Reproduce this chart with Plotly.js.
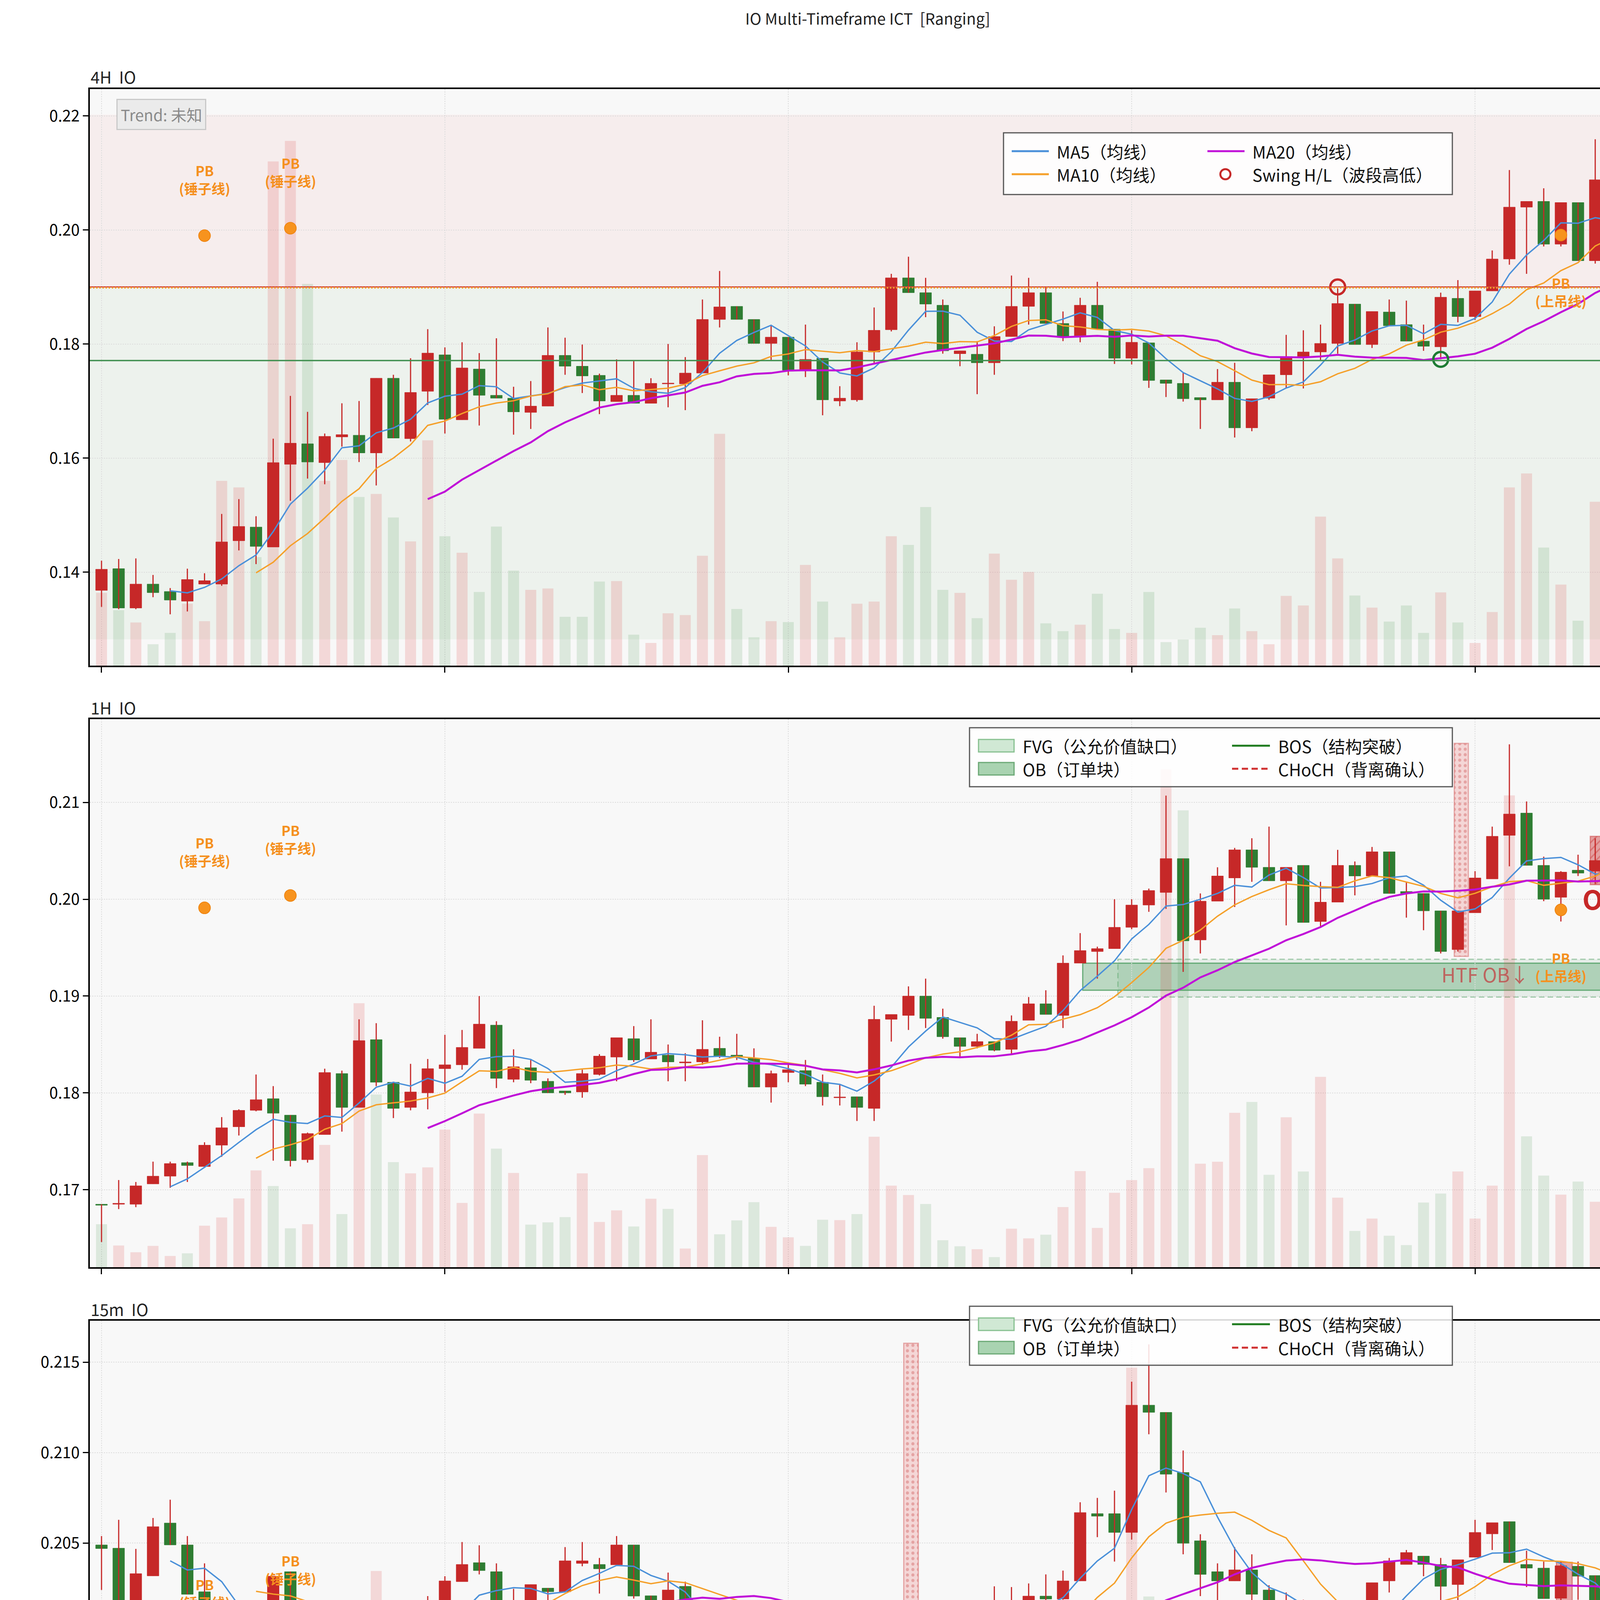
<!DOCTYPE html>
<html><head><meta charset="utf-8">
<script src="https://cdn.plot.ly/plotly-3.0.1.min.js"></script>
<style>html,body{margin:0;padding:0;background:#fff}#chart{width:4283px;height:6370px}</style>
</head><body><div id="chart"></div>
<script>
// ---------------- DATA ----------------
const IDX = Array.from({length: 90}, (_, i) => i);
const TIME_TICKS = [0, 11, 22, 33, 44, 55, 66, 77, 88];
const TIME_LABELS = ['06-22 06:12','06-22 06:45','06-22 07:18','06-22 07:51','06-22 08:24','06-22 08:57','06-22 09:30','06-22 10:03','06-22 10:36'];

// 4H
const P1_OPEN = [0.1368,0.1406,0.1337,0.1379,0.1366,0.1349,0.1379,0.1379,0.1455,0.1479,0.1444,0.1589,0.1625,0.1592,0.1637,0.1640,0.1609,0.1740,0.1634,0.1717,0.1781,0.1667,0.1756,0.1710,0.1705,0.1680,0.1691,0.1780,0.1761,0.1745,0.1699,0.1710,0.1696,0.1730,0.1730,0.1749,0.1843,0.1866,0.1843,0.1801,0.1812,0.1754,0.1775,0.1700,0.1702,0.1786,0.1825,0.1916,0.1890,0.1868,0.1783,0.1782,0.1767,0.1813,0.1866,0.1890,0.1836,0.1813,0.1868,0.1826,0.1775,0.1802,0.1737,0.1731,0.1706,0.1702,0.1733,0.1653,0.1705,0.1746,0.1778,0.1786,0.1801,0.1870,0.1799,0.1856,0.1834,0.1805,0.1795,0.1880,0.1848,0.1893,0.1949,0.2040,0.2050,0.1975,0.2048,0.1946,0.2090,0.2027];
const P1_HIGH = [0.1420,0.1423,0.1424,0.1395,0.1372,0.1406,0.1398,0.1502,0.1528,0.1498,0.1634,0.1709,0.1681,0.1643,0.1696,0.1700,0.1740,0.1746,0.1775,0.1826,0.1794,0.1803,0.1784,0.1810,0.1725,0.1735,0.1829,0.1811,0.1799,0.1748,0.1773,0.1770,0.1740,0.1800,0.1777,0.1878,0.1928,0.1866,0.1843,0.1832,0.1812,0.1834,0.1775,0.1726,0.1803,0.1864,0.1923,0.1953,0.1916,0.1878,0.1788,0.1805,0.1831,0.1920,0.1916,0.1901,0.1857,0.1881,0.1909,0.1826,0.1824,0.1802,0.1737,0.1750,0.1706,0.1756,0.1767,0.1704,0.1746,0.1816,0.1824,0.1834,0.1899,0.1870,0.1857,0.1878,0.1876,0.1834,0.1890,0.1912,0.1893,0.1964,0.2105,0.2050,0.2073,0.2048,0.2048,0.2159,0.2090,0.2055];
const P1_LOW = [0.1339,0.1335,0.1335,0.1356,0.1326,0.1331,0.1379,0.1376,0.1438,0.1414,0.1444,0.1525,0.1564,0.1554,0.1620,0.1593,0.1552,0.1635,0.1629,0.1693,0.1643,0.1667,0.1657,0.1705,0.1641,0.1651,0.1691,0.1746,0.1714,0.1677,0.1699,0.1696,0.1696,0.1689,0.1684,0.1749,0.1829,0.1843,0.1801,0.1772,0.1745,0.1742,0.1675,0.1691,0.1699,0.1767,0.1822,0.1890,0.1847,0.1783,0.1761,0.1712,0.1746,0.1813,0.1834,0.1836,0.1805,0.1803,0.1826,0.1765,0.1764,0.1723,0.1707,0.1699,0.1651,0.1702,0.1636,0.1647,0.1702,0.1723,0.1722,0.1772,0.1783,0.1799,0.1793,0.1832,0.1805,0.1788,0.1773,0.1838,0.1842,0.1893,0.1939,0.1923,0.1971,0.1971,0.1946,0.1941,0.1977,0.1983];
const P1_CLOSE = [0.1405,0.1337,0.1379,0.1364,0.1351,0.1387,0.1385,0.1453,0.1480,0.1445,0.1592,0.1626,0.1593,0.1638,0.1641,0.1609,0.1740,0.1635,0.1715,0.1784,0.1668,0.1758,0.1710,0.1705,0.1681,0.1691,0.1780,0.1761,0.1744,0.1700,0.1710,0.1696,0.1731,0.1731,0.1749,0.1843,0.1865,0.1843,0.1801,0.1812,0.1754,0.1773,0.1702,0.1705,0.1786,0.1824,0.1916,0.1890,0.1870,0.1788,0.1788,0.1767,0.1813,0.1866,0.1890,0.1836,0.1813,0.1868,0.1826,0.1775,0.1803,0.1736,0.1731,0.1704,0.1702,0.1733,0.1653,0.1704,0.1746,0.1778,0.1786,0.1801,0.1871,0.1799,0.1857,0.1832,0.1805,0.1796,0.1882,0.1848,0.1893,0.1949,0.2040,0.2050,0.1975,0.2048,0.1946,0.2088,0.2025,0.1983];
const P1_VOL = [167,127,99,49,75,142,102,424,409,249,1157,1204,876,424,472,387,394,340,285,517,297,259,169,319,218,174,177,112,112,193,194,71,52,120,116,252,532,130,65,102,100,231,147,65,142,147,297,277,364,174,167,109,257,197,215,97,79,94,165,84,75,169,54,60,87,70,131,79,49,160,138,342,246,161,133,101,138,75,168,99,52,123,409,441,271,186,103,376,205,93];

// 1H
const P2_OPEN = [0.1685,0.1685,0.1685,0.1706,0.1714,0.1728,0.1724,0.1746,0.1765,0.1782,0.1794,0.1777,0.1731,0.1757,0.1820,0.1785,0.1855,0.1811,0.1785,0.1800,0.1825,0.1829,0.1846,0.1870,0.1814,0.1826,0.1812,0.1802,0.1801,0.1819,0.1837,0.1856,0.1835,0.1839,0.1831,0.1832,0.1846,0.1839,0.1836,0.1806,0.1821,0.1823,0.1811,0.1795,0.1796,0.1784,0.1876,0.1880,0.1900,0.1878,0.1857,0.1848,0.1853,0.1845,0.1875,0.1892,0.1880,0.1934,0.1946,0.1949,0.1971,0.1994,0.2007,0.2042,0.1958,0.1998,0.2022,0.2051,0.2033,0.2019,0.2035,0.1977,0.1997,0.2035,0.2024,0.2049,0.2008,0.2006,0.1988,0.1948,0.1986,0.2021,0.2066,0.2089,0.2035,0.2002,0.2030,0.2029,0.2038,0.2030];
const P2_HIGH = [0.1685,0.1710,0.1708,0.1729,0.1729,0.1729,0.1749,0.1775,0.1783,0.1819,0.1807,0.1777,0.1759,0.1825,0.1823,0.1876,0.1872,0.1811,0.1830,0.1835,0.1860,0.1865,0.1900,0.1874,0.1845,0.1834,0.1815,0.1802,0.1824,0.1840,0.1857,0.1869,0.1876,0.1850,0.1841,0.1875,0.1858,0.1861,0.1846,0.1823,0.1830,0.1834,0.1819,0.1809,0.1796,0.1890,0.1881,0.1910,0.1918,0.1887,0.1857,0.1861,0.1853,0.1880,0.1899,0.1906,0.1942,0.1965,0.1951,0.2000,0.2000,0.2011,0.2107,0.2042,0.2006,0.2033,0.2053,0.2063,0.2075,0.2033,0.2035,0.2018,0.2051,0.2039,0.2054,0.2049,0.2018,0.2006,0.1988,0.1988,0.2029,0.2075,0.2160,0.2101,0.2044,0.2029,0.2046,0.2063,0.2046,0.2030];
const P2_LOW = [0.1646,0.1680,0.1682,0.1706,0.1702,0.1708,0.1724,0.1734,0.1756,0.1781,0.1730,0.1724,0.1728,0.1757,0.1760,0.1785,0.1807,0.1774,0.1782,0.1783,0.1801,0.1824,0.1846,0.1805,0.1811,0.1810,0.1800,0.1798,0.1795,0.1818,0.1812,0.1832,0.1835,0.1812,0.1812,0.1829,0.1836,0.1834,0.1806,0.1790,0.1811,0.1807,0.1787,0.1787,0.1771,0.1771,0.1853,0.1865,0.1867,0.1856,0.1837,0.1846,0.1843,0.1840,0.1875,0.1881,0.1867,0.1934,0.1918,0.1949,0.1969,0.1987,0.1990,0.1925,0.1944,0.1998,0.1992,0.2018,0.2019,0.1973,0.1976,0.1971,0.1997,0.2004,0.2024,0.2006,0.1981,0.1968,0.1944,0.1946,0.1986,0.2021,0.2034,0.2035,0.1998,0.1977,0.2024,0.2016,0.2018,0.1978];
const P2_CLOSE = [0.1684,0.1686,0.1704,0.1714,0.1727,0.1725,0.1746,0.1764,0.1782,0.1793,0.1779,0.1730,0.1758,0.1821,0.1785,0.1854,0.1811,0.1784,0.1801,0.1825,0.1829,0.1847,0.1871,0.1815,0.1827,0.1813,0.1800,0.1800,0.1820,0.1838,0.1857,0.1834,0.1842,0.1832,0.1832,0.1845,0.1838,0.1837,0.1806,0.1820,0.1824,0.1809,0.1796,0.1795,0.1785,0.1876,0.1881,0.1900,0.1877,0.1858,0.1848,0.1853,0.1844,0.1874,0.1892,0.1881,0.1934,0.1947,0.1949,0.1971,0.1994,0.2009,0.2042,0.1957,0.1998,0.2024,0.2051,0.2033,0.2019,0.2033,0.1976,0.1997,0.2035,0.2024,0.2049,0.2006,0.2006,0.1988,0.1946,0.1988,0.2022,0.2065,0.2088,0.2035,0.2000,0.2028,0.2027,0.2040,0.2032,0.1978];
const P2_VOL = [115,58,40,57,30,37,111,133,184,259,217,104,115,327,142,706,462,281,251,267,368,172,411,317,252,114,120,134,251,121,152,109,183,156,50,300,88,125,174,108,80,57,127,126,142,349,218,193,169,72,56,48,27,103,77,87,161,257,105,199,233,265,1332,1222,277,282,413,442,247,401,256,509,186,97,130,84,59,173,197,256,130,218,1262,350,245,194,229,175,180,109];

// 15m
const P3_OPEN = [0.20490,0.20472,0.20128,0.20319,0.20611,0.20490,0.20231,0.20177,0.19949,0.19939,0.20030,0.20342,0.20012,0.20024,0.19859,0.19770,0.19720,0.20040,0.19881,0.19971,0.20080,0.20287,0.20392,0.20342,0.20080,0.20150,0.20251,0.20231,0.20388,0.20382,0.20380,0.20490,0.20209,0.20150,0.20261,0.20080,0.19931,0.19929,0.20080,0.20060,0.19851,0.19839,0.19871,0.19871,0.19831,0.19682,0.19619,0.19479,0.19509,0.19660,0.19790,0.19861,0.20050,0.20130,0.20181,0.20207,0.20191,0.20291,0.20663,0.20663,0.20559,0.21263,0.21223,0.20891,0.20513,0.20342,0.20291,0.20352,0.20241,0.20080,0.20140,0.20009,0.19949,0.19901,0.20010,0.20291,0.20382,0.20428,0.20382,0.20271,0.20422,0.20551,0.20619,0.20382,0.20362,0.20195,0.20372,0.20321,0.20140,0.19889];
const P3_HIGH = [0.20539,0.20629,0.20468,0.20639,0.20740,0.20539,0.20388,0.20177,0.20080,0.20040,0.20317,0.20342,0.20156,0.20024,0.19919,0.19885,0.20181,0.20090,0.20040,0.20207,0.20317,0.20506,0.20488,0.20388,0.20247,0.20271,0.20251,0.20478,0.20506,0.20418,0.20539,0.20490,0.20209,0.20337,0.20287,0.20100,0.20126,0.20080,0.20092,0.20060,0.19945,0.19881,0.20006,0.19871,0.19841,0.19682,0.19619,0.19583,0.19664,0.19899,0.19999,0.20050,0.20261,0.20257,0.20277,0.20327,0.20348,0.20726,0.20750,0.20790,0.21393,0.21599,0.21223,0.21012,0.20549,0.20388,0.20478,0.20438,0.20267,0.20227,0.20187,0.20086,0.20016,0.20036,0.20281,0.20418,0.20462,0.20428,0.20418,0.20408,0.20629,0.20613,0.20619,0.20458,0.20398,0.20398,0.20398,0.20321,0.20140,0.19929];
const P3_LOW = [0.20241,0.20072,0.20112,0.20319,0.20490,0.20217,0.20120,0.19889,0.19720,0.19889,0.19979,0.19841,0.19971,0.19851,0.19760,0.19700,0.19710,0.19790,0.19881,0.19951,0.20080,0.20287,0.20327,0.20032,0.20056,0.20052,0.20110,0.20231,0.20372,0.20221,0.20380,0.20193,0.20110,0.20100,0.20032,0.19800,0.19889,0.19871,0.19911,0.19780,0.19811,0.19670,0.19871,0.19780,0.19634,0.19509,0.19453,0.19402,0.19509,0.19660,0.19790,0.19825,0.20050,0.20112,0.20116,0.20156,0.20187,0.20291,0.20533,0.20398,0.20519,0.21102,0.20780,0.20438,0.20207,0.20181,0.20291,0.20130,0.20026,0.20030,0.19975,0.19889,0.19871,0.19770,0.19965,0.20227,0.20382,0.20317,0.20177,0.20160,0.20422,0.20462,0.20392,0.20257,0.20193,0.20181,0.20187,0.20150,0.19889,0.19778];
const P3_CLOSE = [0.20470,0.20128,0.20331,0.20591,0.20490,0.20217,0.20177,0.19959,0.19931,0.20040,0.20317,0.20026,0.20024,0.19851,0.19760,0.19730,0.20040,0.19871,0.19959,0.20080,0.20291,0.20382,0.20348,0.20086,0.20160,0.20271,0.20231,0.20402,0.20402,0.20358,0.20490,0.20207,0.20150,0.20241,0.20060,0.19939,0.19911,0.20080,0.20060,0.19851,0.19852,0.19881,0.19881,0.19821,0.19670,0.19640,0.19469,0.19503,0.19650,0.19770,0.19871,0.20050,0.20130,0.20171,0.20207,0.20191,0.20291,0.20669,0.20649,0.20559,0.21263,0.21223,0.20881,0.20499,0.20327,0.20291,0.20352,0.20217,0.20090,0.20140,0.19999,0.19939,0.19911,0.19999,0.20281,0.20402,0.20448,0.20382,0.20261,0.20408,0.20559,0.20613,0.20392,0.20362,0.20193,0.20375,0.20317,0.20150,0.19889,0.19778];
const P3_VOL = [160,320,166,76,91,184,132,388,164,45,187,191,132,107,71,101,739,65,88,87,113,110,57,87,25,53,26,98,49,65,46,38,35,67,27,29,38,24,27,79,31,192,35,97,123,93,73,202,104,133,62,45,115,55,43,40,30,181,174,249,1298,669,250,297,140,177,71,167,122,79,112,61,71,110,139,121,44,50,232,59,192,54,40,157,104,43,49,67,88,59];

// 3m
const P4_OPEN = [0.20020,0.19950,0.19960,0.19994,0.19991,0.19991,0.19901,0.19901,0.19970,0.20011,0.19991,0.20009,0.20051,0.20092,0.20051,0.20111,0.20291,0.20241,0.20322,0.20312,0.20341,0.20382,0.20411,0.20392,0.20372,0.20441,0.20432,0.20353,0.20372,0.20353,0.20363,0.20382,0.20352,0.20363,0.20363,0.20282,0.20271,0.20231,0.20210,0.20346,0.20303,0.20421,0.20521,0.20531,0.20511,0.20490,0.20551,0.20561,0.20500,0.20481,0.20541,0.20622,0.20521,0.20492,0.20500,0.20481,0.20382,0.20312,0.20422,0.20351,0.20291,0.20362,0.20291,0.20281,0.20372,0.20212,0.20181,0.20241,0.20271,0.20271,0.20312,0.20372,0.20281,0.20262,0.20321,0.20341,0.20321,0.20271,0.20211,0.20212,0.20110,0.20141,0.20100,0.19989,0.19979,0.19919,0.19889,0.19900,0.19850,0.19798];
const P4_HIGH = [0.20059,0.19988,0.20020,0.20000,0.20018,0.19991,0.19911,0.19959,0.20040,0.20011,0.20020,0.20041,0.20174,0.20102,0.20102,0.20282,0.20291,0.20321,0.20380,0.20353,0.20412,0.20421,0.20421,0.20423,0.20462,0.20462,0.20432,0.20382,0.20372,0.20372,0.20382,0.20421,0.20403,0.20363,0.20363,0.20321,0.20282,0.20251,0.20342,0.20346,0.20413,0.20631,0.20531,0.20602,0.20553,0.20591,0.20561,0.20561,0.20521,0.20580,0.20612,0.20622,0.20540,0.20492,0.20511,0.20481,0.20392,0.20460,0.20450,0.20403,0.20372,0.20403,0.20301,0.20372,0.20372,0.20219,0.20231,0.20312,0.20291,0.20392,0.20392,0.20372,0.20291,0.20301,0.20372,0.20341,0.20321,0.20271,0.20262,0.20212,0.20181,0.20161,0.20100,0.20000,0.19979,0.19969,0.19930,0.19900,0.19869,0.19828];
const P4_LOW = [0.19892,0.19950,0.19933,0.19941,0.19960,0.19873,0.19770,0.19892,0.19960,0.19951,0.19970,0.19960,0.20051,0.20051,0.20031,0.20102,0.20231,0.20220,0.20282,0.20291,0.20341,0.20382,0.20353,0.20372,0.20353,0.20413,0.20341,0.20332,0.20321,0.20341,0.20353,0.20341,0.20352,0.20321,0.20172,0.20262,0.20161,0.20190,0.20210,0.20282,0.20303,0.20421,0.20502,0.20482,0.20450,0.20482,0.20482,0.20480,0.20460,0.20481,0.20541,0.20536,0.20481,0.20481,0.20481,0.20392,0.20322,0.20312,0.20332,0.20251,0.20271,0.20271,0.20282,0.20191,0.20200,0.20191,0.20181,0.20241,0.20251,0.20271,0.20312,0.20231,0.20241,0.20191,0.20321,0.20301,0.20262,0.20200,0.20200,0.20079,0.20110,0.20091,0.20000,0.19950,0.19919,0.19889,0.19853,0.19839,0.19798,0.19776];
const P4_CLOSE = [0.19939,0.19970,0.20001,0.19996,0.20001,0.19911,0.19911,0.19959,0.20031,0.19980,0.20011,0.20041,0.20092,0.20051,0.20102,0.20282,0.20231,0.20312,0.20312,0.20353,0.20403,0.20392,0.20413,0.20372,0.20462,0.20452,0.20382,0.20363,0.20353,0.20363,0.20382,0.20341,0.20353,0.20341,0.20303,0.20262,0.20220,0.20210,0.20342,0.20312,0.20413,0.20521,0.20522,0.20500,0.20469,0.20561,0.20561,0.20500,0.20469,0.20541,0.20612,0.20536,0.20511,0.20481,0.20501,0.20392,0.20322,0.20440,0.20372,0.20291,0.20362,0.20271,0.20292,0.20372,0.20200,0.20191,0.20231,0.20262,0.20291,0.20312,0.20372,0.20291,0.20262,0.20301,0.20341,0.20321,0.20262,0.20212,0.20212,0.20110,0.20151,0.20100,0.20000,0.19990,0.19919,0.19889,0.19919,0.19859,0.19798,0.19800];
const P4_VOL = [322,42,77,128,157,274,698,126,73,76,87,138,985,20,67,138,126,225,607,117,101,142,81,51,63,86,129,126,119,100,7,142,665,43,1277,129,164,212,79,36,75,1018,100,198,396,154,63,176,118,67,89,123,78,12,59,103,118,153,321,842,94,241,91,503,48,124,33,85,48,150,96,92,22,312,38,14,10,194,258,106,85,101,202,275,165,110,137,89,253,96];

// annotation values / zones
const P1_PREMIUM = [0.1900, 0.2202];
const P1_DISCOUNT = [0.1282, 0.1900];
const P1_RES_LEVEL = 0.1900, P1_SUP_LEVEL = 0.1771;
const P1_SWING_H = [[72], [0.1900]], P1_SWING_L = [[78], [0.1773]];
const P1_PB_X = [6, 11, 85, 89], P1_PB_Y = [0.1990, 0.2003, 0.1991, 0.1983];
const P2_PB_X = [6, 11, 85, 89], P2_PB_Y = [0.19911, 0.20039, 0.1989, 0.1981];
const P3_PB_X = [6, 11, 85, 89], P3_PB_Y = [0.19911, 0.20042, 0.19889, 0.19811];
const P4_PB_X = [89], P4_PB_Y = [0.19809];
const PB_KIND_3 = ['锤子线', '锤子线', '上吊线', '锤子线'];
const P2_OB_ZONE = [57.15, 89.74, 0.1906, 0.1934];
const P2_HTF_ZONE = [59.2, 89.74, 0.1899, 0.1938];
const P2_FVG_BOX = [79.2, 0.1941, 0.2161];
const P2_OB_BOX = [87.2, 0.2015, 0.2065];
const P2_OB_LABEL = [88.56, 0.20011];
const P2_OB_ARROW = [89.2, 0.2025, 0.19905];
const P3_OB_ZONE = [50.1, 89.74, 0.1967, 0.1977];
const P3_HTF_ZONE = [0, 89.74, 0.1899, 0.19372];
const P3_FVG_BOX = [47.15, 0.19398, 0.21605];
const P3_OB_BOX = [85.2, 0.20177, 0.20394];
const P3_OB_LABEL = [86.4, 0.20066];
const P3_OB_ARROW = [87.35, 0.20136, 0.20012];
const P4_HTF_ZONE = [0, 89.74, 0.1899, 0.1937];
const P4_EQH = 0.20367, P4_EQL = 0.20271;
const P4_ENTRY = [[70], [0.20392]];
const P4_DISP = [[79, 82], [0.20084, 0.20001]];

// ---------------- LAYOUT HELPERS ----------------
const W = 4283, H = 6370, ML = 230, MR = 70, MT = 228, MB = 269;
const PW = W - ML - MR, PH = H - MT - MB;
const px = x => (x - ML) / PW;
const py = y => (H - MB - y) / PH;
const FONT = 'Noto Sans CJK SC, Noto Sans, sans-serif';
const UP = '#c62828', DN = '#2e7d32';
const XR = [-0.68, 89.94];

const PANELS = [
  {O:P1_OPEN,H:P1_HIGH,L:P1_LOW,C:P1_CLOSE,V:P1_VOL, pr:[0.1236,0.2247], vr:1323, dom:[py(1704),1], dtick:0.02, fmt:'.2f', hpx:1476, title:'4H  IO', ty:196},
  {O:P2_OPEN,H:P2_HIGH,L:P2_LOW,C:P2_CLOSE,V:P2_VOL, pr:[0.1620,0.2186], vr:1466, dom:[py(3244),py(1841)], dtick:0.01, fmt:'.2f', hpx:1403, title:'1H  IO', ty:1811},
  {O:P3_OPEN,H:P3_HIGH,L:P3_LOW,C:P3_CLOSE,V:P3_VOL, pr:[0.18859,0.2173], vr:1427, dom:[py(4710),py(3381)], dtick:0.005, fmt:'.3f', hpx:1329, title:'15m  IO', ty:3350},
  {O:P4_OPEN,H:P4_HIGH,L:P4_LOW,C:P4_CLOSE,V:P4_VOL, pr:[0.18910,0.20713], vr:1405, dom:[0,py(4846)], dtick:0.0025, fmt:'.4f', hpx:1255, title:'3m  IO', ty:4816}
];

function sma(a, n) { return a.map((_, i) => i < n - 1 ? null : a.slice(i - n + 1, i + 1).reduce((s, v) => s + v, 0) / n); }

const data = [], shapes = [], annotations = [];
const layout = {
  width: W, height: H, paper_bgcolor: '#ffffff', plot_bgcolor: '#f8f8f8',
  margin: {l: ML, r: MR, t: MT, b: MB}, showlegend: false, hovermode: false,
  barmode: 'overlay', font: {family: FONT, color: '#111'},
  title: {text: 'IO Multi-Timeframe ICT  [Ranging]', x: 0.5, xref: 'paper', xanchor: 'center', y: 1 - 49 / H, yref: 'container', yanchor: 'middle', font: {size: 40, color: '#222', family: FONT}},
  shapes: shapes, annotations: annotations
};

const ids = [];
PANELS.forEach((p, k) => {
  const n = k + 1;
  const xid = n === 1 ? 'x' : 'x' + n;
  const yvid = n === 1 ? 'y' : 'y' + (2 * n - 1);
  const ypid = 'y' + (2 * n);
  ids.push({xid, yvid, ypid});
  const isLast = n === 4;
  layout[n === 1 ? 'xaxis' : 'xaxis' + n] = {
    domain: [0, 1], range: XR, anchor: yvid, zeroline: false,
    tickmode: 'array', tickvals: isLast ? TIME_TICKS : [0, 20, 40, 60, 80],
    ticktext: isLast ? TIME_LABELS : undefined, showticklabels: isLast,
    tickangle: isLast ? -30 : 0, tickfont: {size: 44, color: '#000', family: FONT},
    ticks: 'outside', ticklen: 14, tickwidth: 3, tickcolor: '#000',
    showgrid: true, gridcolor: '#dcdcdc', griddash: 'dot', gridwidth: 2,
    showline: true, linecolor: '#000', linewidth: 4, mirror: true
  };
  layout[n === 1 ? 'yaxis' : 'yaxis' + (2 * n - 1)] = {domain: p.dom, range: [0, p.vr], visible: false, fixedrange: true};
  layout['yaxis' + (2 * n)] = {
    overlaying: yvid, anchor: xid, side: 'left', range: p.pr, zeroline: false,
    tick0: 0, dtick: p.dtick, tickformat: p.fmt, tickfont: {size: 40, color: '#000', family: FONT},
    ticks: 'outside', ticklen: 14, tickwidth: 3, tickcolor: '#000',
    showgrid: true, gridcolor: '#dcdcdc', griddash: 'dot', gridwidth: 2,
    showline: true, linecolor: '#000', linewidth: 4, mirror: true
  };
  const up = p.C.map((c, i) => c >= p.O[i]);
  data.push({type: 'bar', x: IDX, y: p.V, xaxis: xid, yaxis: yvid, width: 0.64,
    marker: {color: up.map(u => u ? 'rgba(220,60,60,0.17)' : 'rgba(60,140,70,0.15)')}, hoverinfo: 'skip'});
  annotations.push({xref: 'paper', yref: 'paper', x: 0, y: py(p.ty), xanchor: 'left', yanchor: 'middle', text: p.title, showarrow: false, font: {size: 42, color: '#222', family: FONT}});
});

function addCandles(k, extraBefore) {
  const p = PANELS[k], id = ids[k];
  (extraBefore || []).forEach(t => data.push(t));
  const minH = (p.pr[1] - p.pr[0]) / p.hpx * 2;
  const cols = IDX.map(i => p.C[i] >= p.O[i] ? UP : DN);
  data.push({type: 'bar', x: IDX, xaxis: id.xid, yaxis: id.ypid, width: 0.68,
    base: IDX.map(i => Math.min(p.O[i], p.C[i])),
    y: IDX.map(i => Math.max(Math.abs(p.C[i] - p.O[i]), minH)),
    marker: {color: cols, line: {color: cols, width: 1}}, hoverinfo: 'skip'});
  // high-low wick drawn over the body (as in the reference)
  const wx = [], wy = [];
  IDX.forEach(i => { wx.push(i, i, null); wy.push(p.L[i], p.H[i], null); });
  data.push({type: 'scatter', mode: 'lines', x: wx, y: wy, xaxis: id.xid, yaxis: id.ypid, line: {color: UP, width: 3}, hoverinfo: 'skip'});
  const mas = [[5, '#4a90d9', 3.5], [10, '#f5a02a', 3.5], [20, '#c010d8', 5]];
  mas.forEach(m => data.push({type: 'scatter', mode: 'lines', x: IDX, y: sma(p.C, m[0]), xaxis: id.xid, yaxis: id.ypid, line: {color: m[1], width: m[2]}, hoverinfo: 'skip', connectgaps: false}));
}

function patternBox(k, box, width, fill, fg, shape, border) {
  const id = ids[k];
  return {type: 'bar', x: [box[0]], base: [box[1]], y: [box[2] - box[1]], width: width, xaxis: id.xid, yaxis: id.ypid,
    marker: {color: fill, line: {color: border, width: 3}, pattern: shape ? {shape: shape, fgcolor: fg, size: 14, solidity: 0.25, fillmode: 'overlay'} : undefined}, hoverinfo: 'skip'};
}

function zoneRect(k, z, fill, lineColor, dash) {
  const id = ids[k];
  shapes.push({type: 'rect', xref: id.xid, yref: id.ypid, x0: z[0], x1: z[1], y0: z[2], y1: z[3], fillcolor: fill,
    line: {color: lineColor, width: 3, dash: dash || 'solid'}, layer: 'below'});
}

function hline(k, y, color, width, dash, layer) {
  const id = ids[k];
  shapes.push({type: 'line', xref: id.xid + ' domain', yref: id.ypid, x0: 0, x1: 1, y0: y, y1: y, line: {color, width, dash: dash || 'solid'}, layer: layer || 'above'});
}

function pbDots(k, xs, ys, kinds) {
  const id = ids[k];
  data.push({type: 'scatter', mode: 'markers', x: xs, y: ys, xaxis: id.xid, yaxis: id.ypid,
    marker: {symbol: 'circle', size: 30, color: '#f7931e', line: {color: '#ef8410', width: 2}}, hoverinfo: 'skip'});
  xs.forEach((x, j) => {
    const hang = kinds[j] === '上吊线';
    annotations.push({xref: id.xid, yref: id.ypid, x: x, y: ys[j], yshift: hang ? -145 : 145, showarrow: false,
      text: '<b>PB</b><br><b>(' + kinds[j] + ')</b>', align: 'center', xanchor: 'center', yanchor: 'middle',
      font: {size: 35, color: '#f5901e', family: FONT}});
  });
}

function textAt(k, x, y, t, size, color, xanchor, bold) {
  const id = ids[k];
  annotations.push({xref: id.xid, yref: id.ypid, x: x, y: y, text: bold ? '<b>' + t + '</b>' : t, showarrow: false,
    xanchor: xanchor || 'center', yanchor: 'middle', font: {size: size, color: color, family: FONT}});
}

function downArrow(k, a, width, head) {
  const id = ids[k];
  data.push({type: 'scatter', mode: 'lines', x: [a[0], a[0]], y: [a[1], a[2]], xaxis: id.xid, yaxis: id.ypid, line: {color: '#c62828', width: width}, hoverinfo: 'skip'});
  data.push({type: 'scatter', mode: 'markers', x: [a[0]], y: [a[2]], xaxis: id.xid, yaxis: id.ypid, marker: {symbol: 'triangle-down', size: head, color: '#c62828'}, hoverinfo: 'skip'});
}

// ---- Panel 1 ----
zoneRect(0, [-0.68, 89.94, P1_PREMIUM[0], P1_PREMIUM[1]], 'rgba(220,100,100,0.07)', 'rgba(0,0,0,0)');
zoneRect(0, [-0.68, 89.94, P1_DISCOUNT[0], P1_DISCOUNT[1]], 'rgba(100,170,100,0.07)', 'rgba(0,0,0,0)');
addCandles(0);
hline(0, P1_RES_LEVEL, '#d0453a', 3);
hline(0, P1_RES_LEVEL - 0.00015, '#f5a02a', 4, 'dot');
hline(0, P1_SUP_LEVEL, '#3f8f4f', 3.5);
data.push({type: 'scatter', mode: 'markers', x: P1_SWING_H[0], y: P1_SWING_H[1], xaxis: 'x', yaxis: 'y2', marker: {symbol: 'circle-open', size: 38, color: '#c62828', line: {width: 6}}, hoverinfo: 'skip'});
data.push({type: 'scatter', mode: 'markers', x: P1_SWING_L[0], y: P1_SWING_L[1], xaxis: 'x', yaxis: 'y2', marker: {symbol: 'circle-open', size: 38, color: '#1e7b34', line: {width: 6}}, hoverinfo: 'skip'});
pbDots(0, P1_PB_X, P1_PB_Y, PB_KIND_3);
annotations.push({xref: 'paper', yref: 'paper', x: px(298), y: py(293), xanchor: 'left', yanchor: 'middle', text: 'Trend: 未知', showarrow: false,
  font: {size: 40, color: '#8a8a8a', family: FONT}, bgcolor: '#ebebeb', bordercolor: '#c9c9c9', borderwidth: 3, borderpad: 8});

// ---- Panel 2 ----
zoneRect(1, P2_HTF_ZONE, 'rgba(100,160,120,0.13)', 'rgba(110,175,125,0.6)', '14px,8px');
zoneRect(1, P2_OB_ZONE, 'rgba(80,160,100,0.36)', 'rgba(80,160,100,0.85)');
addCandles(1, [patternBox(1, P2_FVG_BOX, 0.82, 'rgba(240,185,185,0.55)', 'rgba(200,70,70,0.7)', '.', 'rgba(215,110,110,0.55)')]);
data.push(patternBox(1, P2_OB_BOX, 0.98, 'rgba(198,40,40,0.42)', 'rgba(198,40,40,0.75)', '/', 'rgba(198,40,40,0.45)'));
pbDots(1, P2_PB_X, P2_PB_Y, PB_KIND_3);
textAt(1, 80.6, 0.1923, 'HTF OB↓', 50, 'rgba(192,72,72,0.8)');
textAt(1, P2_OB_LABEL[0], P2_OB_LABEL[1], 'OB', 68, '#c62828', 'right', true);
downArrow(1, P2_OB_ARROW, 4, 20);

// ---- Panel 3 ----
zoneRect(2, P3_HTF_ZONE, 'rgba(100,160,120,0.13)', 'rgba(110,175,125,0.6)', '14px,8px');
zoneRect(2, P3_OB_ZONE, 'rgba(80,160,100,0.36)', 'rgba(80,160,100,0.85)');
addCandles(2, [patternBox(2, P3_FVG_BOX, 0.85, 'rgba(240,185,185,0.55)', 'rgba(200,70,70,0.7)', '.', 'rgba(215,110,110,0.55)')]);
data.push(patternBox(2, P3_OB_BOX, 0.92, 'rgba(198,40,40,0.4)', null, null, 'rgba(198,40,40,0.45)'));
pbDots(2, P3_PB_X, P3_PB_Y, PB_KIND_3);
textAt(2, 48.5, 0.19286, 'HTF OB↓', 50, 'rgba(192,72,72,0.8)');
textAt(2, P3_OB_LABEL[0], P3_OB_LABEL[1], 'OB', 66, '#c62828', 'right', true);
downArrow(2, P3_OB_ARROW, 5, 22);

// ---- Panel 4 ----
zoneRect(3, P4_HTF_ZONE, 'rgba(100,160,120,0.13)', 'rgba(110,175,125,0.6)', '14px,8px');
addCandles(3);
hline(3, P4_EQH, '#d64f4f', 4.5, '23px,11px');
hline(3, P4_EQL, '#2e9e45', 4.5, '23px,11px');
data.push({type: 'scatter', mode: 'markers', x: P4_ENTRY[0], y: P4_ENTRY[1], xaxis: 'x4', yaxis: 'y8', marker: {symbol: 'circle-open', size: 38, color: '#c62828', line: {width: 6}}, hoverinfo: 'skip'});
data.push({type: 'scatter', mode: 'markers', x: P4_DISP[0], y: P4_DISP[1], xaxis: 'x4', yaxis: 'y8', marker: {symbol: 'triangle-down', size: 44, color: '#f7931e', line: {color: '#e07b00', width: 2}}, hoverinfo: 'skip'});
pbDots(3, P4_PB_X, P4_PB_Y, ['锤子线']);
textAt(3, 70, 0.20444, 'Entry Ref', 42, '#c62828');
textAt(3, 89.4, 0.20398, 'EQH', 42, '#d04040', 'right');
textAt(3, 89.4, 0.20238, 'EQL', 42, '#2e8b3e', 'right');

// ---------------- LEGENDS (drawn boxes) ----------------
function legBox(x0, y0, x1, y1) { shapes.push({type: 'rect', xref: 'paper', yref: 'paper', x0: px(x0), x1: px(x1), y0: py(y1), y1: py(y0), fillcolor: 'rgba(255,255,255,0.85)', line: {color: '#555', width: 3}, layer: 'above'}); }
function legLine(x0, x1, y, color, dash, w) { shapes.push({type: 'line', xref: 'paper', yref: 'paper', x0: px(x0), x1: px(x1), y0: py(y), y1: py(y), line: {color: color, width: w || 5, dash: dash || 'solid'}, layer: 'above'}); }
function legPatch(x0, x1, y, fill, border) { shapes.push({type: 'rect', xref: 'paper', yref: 'paper', x0: px(x0), x1: px(x1), y0: py(y + 16), y1: py(y - 16), fillcolor: fill, line: {color: border, width: 3}, layer: 'above'}); }
function legText(x, y, t) { annotations.push({xref: 'paper', yref: 'paper', x: px(x), y: py(y), xanchor: 'left', yanchor: 'middle', text: t, showarrow: false, font: {size: 43, color: '#111', family: FONT}}); }

const P1_LEGEND = ['MA5（均线）', 'MA10（均线）', 'MA20（均线）', 'Swing H/L（波段高低）'];
const SMC_LEGEND = ['FVG（公允价值缺口）', 'OB（订单块）', 'BOS（结构突破）', 'CHoCH（背离确认）'];
const P4_LEGEND = ['EQH（等值高点）', 'EQL（等值低点）', 'Displacement（位移）'];

legBox(2569, 340, 3718, 498);
legLine(2590, 2685, 387, '#4a90d9'); legText(2703, 387, P1_LEGEND[0]);
legLine(2590, 2685, 446, '#f5a02a'); legText(2703, 446, P1_LEGEND[1]);
legLine(3091, 3186, 387, '#c010d8'); legText(3204, 387, P1_LEGEND[2]);
shapes.push({type: 'circle', xref: 'paper', yref: 'paper', x0: px(3124), x1: px(3150), y0: py(459), y1: py(433), line: {color: '#c62828', width: 5}, layer: 'above'});
legText(3204, 446, P1_LEGEND[3]);

[[1863, 2014, 1909, 1968], [3344, 3495, 3390, 3450]].forEach(r => {
  legBox(2482, r[0], 3718, r[1]);
  legPatch(2505, 2596, r[2], '#d0e8d4', '#86c08f'); legText(2616, r[2], SMC_LEGEND[0]);
  legPatch(2505, 2596, r[3], '#a9d3b1', '#6aa874'); legText(2616, r[3], SMC_LEGEND[1]);
  legLine(3154, 3251, r[2], '#1e7b1e'); legText(3270, r[2], SMC_LEGEND[2]);
  legLine(3154, 3251, r[3], '#d03030', '16px,9px'); legText(3270, r[3], SMC_LEGEND[3]);
});

legBox(2514, 4754, 3718, 4910);
legLine(2538, 2629, 4801, '#b040c0', '16px,8px', 4); legText(2650, 4801, P4_LEGEND[0]);
legLine(2538, 2629, 4864, '#2e8b3e', '16px,8px', 4); legText(2650, 4864, P4_LEGEND[1]);
shapes.push({type: 'path', xref: 'paper', yref: 'paper', path: 'M' + px(3142) + ',' + py(4815) + ' L' + px(3172) + ',' + py(4815) + ' L' + px(3157) + ',' + py(4787) + ' Z', fillcolor: '#f7931e', line: {color: '#000', width: 2.5}, layer: 'above'});
legText(3221, 4801, P4_LEGEND[2]);

// footer texts
annotations.push({xref: 'paper', yref: 'paper', x: 0.5, y: py(6325), xanchor: 'center', yanchor: 'middle', text: 'Date', showarrow: false, font: {size: 32, color: '#333', family: FONT}});
annotations.push({xref: 'paper', yref: 'paper', x: px(4278), y: py(6343), xanchor: 'right', yanchor: 'middle', text: '@ 凌晨三点还在盯盘', showarrow: false, font: {size: 26, color: '#b0b0b0', family: FONT}});

Plotly.newPlot('chart', data, layout, {displayModeBar: false, staticPlot: true});
</script>
</body></html>
